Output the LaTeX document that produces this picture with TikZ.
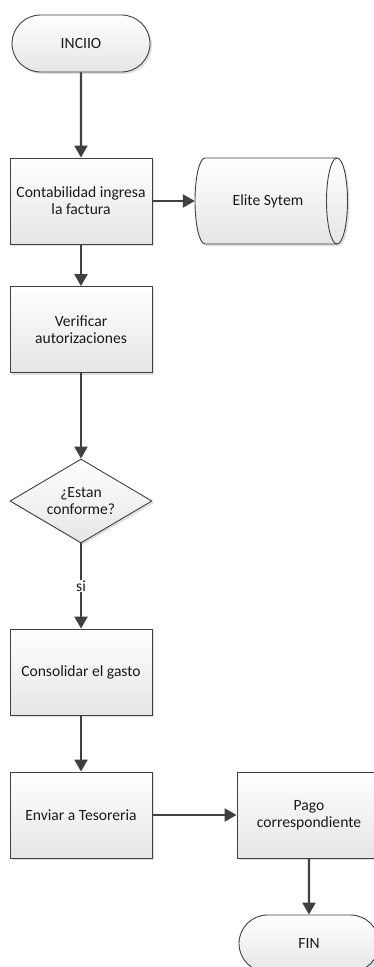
\documentclass[tikz,border=0pt]{standalone}
\usepackage{fontspec}
\setmainfont{Carlito}
\usetikzlibrary{shapes.geometric,shapes.misc,arrows.meta,shadows}
\definecolor{edge}{HTML}{404040}
\definecolor{ink}{HTML}{1A1A1A}
\begin{document}
\begin{tikzpicture}[x=1pt,y=-1pt,
  font=\fontsize{15.6}{17}\selectfont,
  base/.style={draw=edge, line width=0.9pt, top color=white, bottom color=gray!20,
    text=ink, align=center, inner sep=2pt,
    drop shadow={shadow xshift=2pt, shadow yshift=-2pt, opacity=0.25}},
  proc/.style={base, rectangle, minimum width=142pt, minimum height=86pt},
  term/.style={base, rounded rectangle, minimum width=142pt, minimum height=57pt},
  decision/.style={base, diamond, aspect=1.7, minimum width=142pt, minimum height=84pt, inner sep=0pt},
  flow/.style={draw=edge, line width=2.4pt, -{Triangle[length=12pt,width=13pt]}}]

\useasboundingbox (0,0) rectangle (374,967);
\clip (0,0) rectangle (374,967);

% main column
\node[term] (start) at (81,43.5) {INCIIO};
\node[proc] (conta) at (81,201) {Contabilidad ingresa\\la factura};
\node[proc] (verif) at (81,329.5) {Verificar\\autorizaciones};
\node[decision] (conf) at (81,501) {¿Estan\\conforme?};
\node[proc] (conso) at (81,672) {Consolidar el gasto};
\node[proc] (envia) at (81,815) {Enviar a Tesoreria};

% right column
\node[proc, minimum width=144pt] (pago) at (309,815) {Pago\\correspondiente};
\node[term, minimum width=144pt] (fin) at (309,943.5) {FIN};

% stored data: horizontal cylinder
\fill[gray, opacity=0.25, shift={(2pt,-2pt)}]
  (205,158) -- (337,158) arc[start angle=90, end angle=-90, x radius=10.5pt, y radius=43pt]
  -- (205,244) arc[start angle=270, end angle=90, x radius=10pt, y radius=43pt] -- cycle;
\path[draw=edge, line width=0.9pt, top color=white, bottom color=gray!20]
  (205,158) -- (337,158) arc[start angle=90, end angle=-90, x radius=10.5pt, y radius=43pt]
  -- (205,244) arc[start angle=270, end angle=90, x radius=10pt, y radius=43pt] -- cycle;
\draw[edge, line width=0.9pt]
  (337,158) arc[start angle=90, end angle=270, x radius=10.5pt, y radius=43pt];
\node[minimum width=146pt, minimum height=86pt, inner sep=0pt, text=ink] (elite) at (268,201) {Elite Sytem};

% connectors
\draw[flow] (start) -- (conta);
\draw[flow] (conta) -- (elite);
\draw[flow] (conta) -- (verif);
\draw[flow] (verif) -- (conf);
\draw[flow] (conf) -- node[fill=white, text=ink, inner sep=1pt] (silbl) {si} (conso);
\draw[flow] (conso) -- (envia);
\draw[flow] (envia) -- (pago);
\draw[flow] (pago) -- (fin);
\end{tikzpicture}
\end{document}
